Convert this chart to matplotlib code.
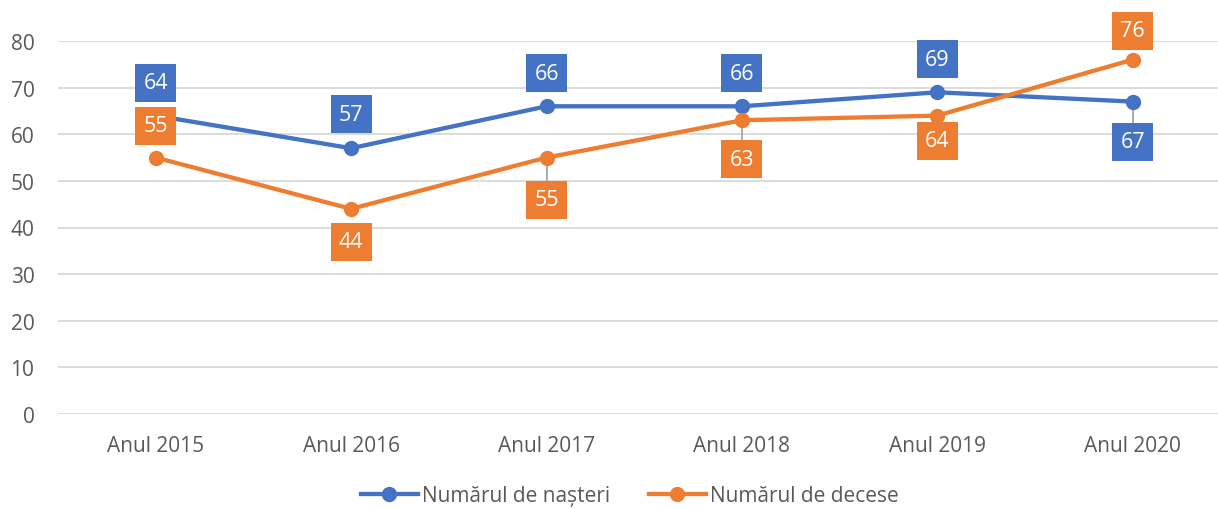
import matplotlib
matplotlib.use("Agg")
import matplotlib.pyplot as plt
from matplotlib.patches import Rectangle
from matplotlib.lines import Line2D
from matplotlib.transforms import IdentityTransform, ScaledTranslation

plt.rcParams['font.family'] = ['Open Sans', 'DejaVu Sans']

categories = ["Anul 2015", "Anul 2016", "Anul 2017", "Anul 2018", "Anul 2019", "Anul 2020"]
nasteri = [64, 57, 66, 66, 69, 67]
decese = [55, 44, 55, 63, 64, 76]
yticks = [0, 10, 20, 30, 40, 50, 60, 70, 80]

blue = "#4472C4"
orange = "#ED7D31"

# label offsets in pixels (dy, leader line)
off_n = [(33, False), (34, False), (33, False), (33, False), (33, False), (-40, True)]
off_d = [(32, False), (-33, False), (-42, True), (-39, True), (-25, False), (29, False)]

fig = plt.figure(figsize=(12.18, 5.10), dpi=100)
ax = fig.add_axes([58/1218, (510-415)/510, 1 - 58/1218, (415-42)/510])

x = list(range(len(categories)))
ax.set_xlim(-0.5, -0.5 + 1160/195.4)
ax.set_ylim(0, 80)

ax.plot(x, nasteri, color=blue, lw=3.1, marker='o', ms=10, label="Numărul de nașteri", zorder=3, clip_on=False)
ax.plot(x, decese, color=orange, lw=3.1, marker='o', ms=10, label="Numărul de decese", zorder=3, clip_on=False)

BW, BH = 41, 38

def label(xi, yi, dy, leader, color):
    tr = IdentityTransform() + ScaledTranslation(xi, yi, ax.transData)
    if leader:
        end = dy + BH / 2 if dy < 0 else dy - BH / 2
        ax.add_line(Line2D([0, 0], [0, end], transform=tr, color='#A6A6A6', lw=1.3,
                           zorder=2.5, clip_on=False))
    ax.add_patch(Rectangle((-BW / 2, dy - BH / 2), BW, BH, transform=tr, fc=color, ec='none',
                           zorder=4, clip_on=False))
    ax.text(0, dy, str(yi), transform=tr, ha='center', va='center', fontsize=15.5,
            color='white', zorder=5, clip_on=False)

for xi, yi, (dy, ld) in zip(x, nasteri, off_n):
    label(xi, yi, dy, ld, blue)
for xi, yi, (dy, ld) in zip(x, decese, off_d):
    label(xi, yi, dy, ld, orange)

ax.set_yticks(yticks)
ax.set_xticks(x)
ax.set_xticklabels(categories)
ax.grid(axis='y', color='#D9D9D9', lw=1.3)
ax.set_axisbelow(True)
for s in ax.spines.values():
    s.set_visible(False)
ax.tick_params(axis='both', length=0, labelsize=15, labelcolor='#595959')
ax.tick_params(axis='y', pad=17)
ax.tick_params(axis='x', pad=15)

leg = fig.legend(loc='center', bbox_to_anchor=(0.517, (510-497)/510), ncol=2, frameon=False,
                 fontsize=15, handlelength=2.74, columnspacing=1.87, handletextpad=0.19,
                 labelcolor='#595959', borderpad=0, borderaxespad=0)

fig.savefig("out.png", dpi=100)
